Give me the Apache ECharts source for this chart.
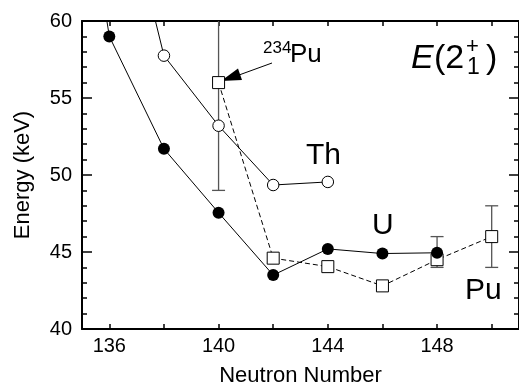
<!DOCTYPE html>
<html>
<head>
<meta charset="utf-8">
<script src="https://cdn.jsdelivr.net/npm/echarts@6/dist/echarts.min.js"></script>
<style>
	html, body { margin: 0; padding: 0; background: #fff; }
	#chart { width: 519px; height: 392px; }
</style>
</head>
<body>
<div id="chart"></div>
<script>
// U (filled circles)
const uN = [134, 136, 138, 140, 142, 144, 146, 148];
const uE = [81.7, 59.0, 51.7, 47.55, 43.5, 45.2, 44.9, 44.95];
// Th (open circles)
const thN = [136, 138, 140, 142, 144];
const thE = [72.2, 57.75, 53.2, 49.35, 49.55];
// Pu (open squares, dashed)
const puN = [140, 142, 144, 146, 148, 150];
const puE = [56.0, 44.6, 44.05, 42.8, 44.5, 46.0];
// error bars: [N, low, high]
const errN = [140, 148, 150];
const errLow = [49, 44, 44];
const errHigh = [63, 46, 48];
// ticks
const xTicks = [136, 138, 140, 142, 144, 146, 148, 150];
const xLabels = [136, 140, 144, 148];

const font = '"Liberation Sans", Arial, Helvetica, sans-serif';

function pairs(xs, ys) {
	return xs.map(function (x, i) { return [x, ys[i]]; });
}

let chart = echarts.init(document.getElementById('chart'));

let axisLine = { show: true, lineStyle: { color: '#000', width: 2 } };
let tickStyle = { color: '#000', width: 1.5 };

chart.setOption({
	animation: false,
	backgroundColor: '#fff',
	grid: { left: 82, right: -1, top: 21, bottom: 59 },
	xAxis: [{
		type: 'value', min: 135, max: 151, position: 'bottom',
		axisLine: axisLine,
		axisTick: { show: true, inside: true, length: 5, customValues: xTicks, lineStyle: tickStyle },
		axisLabel: { customValues: xLabels, fontSize: 20, color: '#000', fontFamily: font, margin: 7 },
		splitLine: { show: false },
		name: 'Neutron Number', nameLocation: 'middle', nameGap: 36,
		nameTextStyle: { fontSize: 22, color: '#000', fontFamily: font }
	}, {
		type: 'value', min: 135, max: 151, position: 'top',
		axisLine: axisLine,
		axisTick: { show: true, inside: true, length: 5, customValues: xTicks, lineStyle: tickStyle },
		axisLabel: { show: false },
		splitLine: { show: false }
	}],
	yAxis: [{
		type: 'value', min: 40, max: 60, interval: 5, position: 'left',
		axisLine: axisLine,
		axisTick: { show: true, inside: true, length: 10, lineStyle: tickStyle },
		minorTick: { show: true, splitNumber: 5, length: 5, lineStyle: tickStyle },
		axisLabel: { fontSize: 20, color: '#000', fontFamily: font, margin: 10 },
		splitLine: { show: false },
		name: 'Energy (keV)', nameLocation: 'middle', nameGap: 48,
		nameTextStyle: { fontSize: 22, color: '#000', fontFamily: font }
	}, {
		type: 'value', min: 40, max: 60, interval: 5, position: 'right',
		axisLine: axisLine,
		axisTick: { show: true, inside: true, length: 10, lineStyle: tickStyle },
		minorTick: { show: true, splitNumber: 5, length: 5, lineStyle: tickStyle },
		axisLabel: { show: false },
		splitLine: { show: false }
	}],
	series: [{
		type: 'custom',
		clip: true,
		z: 1,
		data: errN.map(function (n, i) { return [n, errLow[i], errHigh[i]]; }),
		encode: { x: 0, y: [1, 2] },
		renderItem: function (params, api) {
			let x = api.value(0);
			let lo = api.coord([x, api.value(1)]);
			let hi = api.coord([x, api.value(2)]);
			let w = 6.5;
			let style = { stroke: '#555', lineWidth: 1.3 };
			return {
				type: 'group',
				children: [
					{ type: 'line', shape: { x1: lo[0], y1: lo[1], x2: hi[0], y2: hi[1] }, style: style },
					{ type: 'line', shape: { x1: lo[0] - w, y1: lo[1], x2: lo[0] + w, y2: lo[1] }, style: style },
					{ type: 'line', shape: { x1: hi[0] - w, y1: hi[1], x2: hi[0] + w, y2: hi[1] }, style: style }
				]
			};
		}
	}, {
		name: 'Th', type: 'line', z: 2,
		data: pairs(thN, thE),
		symbol: 'circle', symbolSize: 11.5,
		itemStyle: { color: '#fff', borderColor: '#000', borderWidth: 1 },
		lineStyle: { color: '#000', width: 1 }
	}, {
		name: 'Pu', type: 'line', z: 3,
		data: pairs(puN, puE),
		symbol: 'rect', symbolSize: 12,
		itemStyle: { color: '#fff', borderColor: '#000', borderWidth: 1 },
		lineStyle: { color: '#000', width: 1, type: [5, 3] }
	}, {
		name: 'U', type: 'line', z: 4,
		data: pairs(uN, uE),
		symbol: 'circle', symbolSize: 12,
		itemStyle: { color: '#000' },
		lineStyle: { color: '#000', width: 1 }
	}],
	graphic: [
		{ type: 'text', left: 263, top: 40, style: { text: '234', fontSize: 17, fontFamily: font, fill: '#000' } },
		{ type: 'text', left: 290, top: 42, style: { text: 'Pu', fontSize: 26, fontFamily: font, fill: '#000' } },
		{ type: 'polyline', shape: { points: [[272, 63], [239, 75]] }, style: { stroke: '#000', lineWidth: 1 } },
		{ type: 'polygon', shape: { points: [[221, 81], [242, 80], [238, 68.6]] }, style: { fill: '#000' } },
		{ type: 'text', left: 306, top: 141, style: { text: 'Th', fontSize: 30, fontFamily: font, fill: '#000' } },
		{ type: 'text', left: 372, top: 211, style: { text: 'U', fontSize: 30, fontFamily: font, fill: '#000' } },
		{ type: 'text', left: 465, top: 276, style: { text: 'Pu', fontSize: 30, fontFamily: font, fill: '#000' } },
		{ type: 'text', left: 411, top: 42, style: { text: 'E', fontSize: 34, fontStyle: 'italic', fontFamily: font, fill: '#000' } },
		{ type: 'text', left: 434, top: 42, style: { text: '(2', fontSize: 34, fontFamily: font, fill: '#000' } },
		{ type: 'text', left: 466, top: 36, style: { text: '+', fontSize: 22, fontFamily: font, fill: '#000' } },
		{ type: 'text', left: 467, top: 56, style: { text: '1', fontSize: 23, fontFamily: font, fill: '#000' } },
		{ type: 'text', left: 486, top: 42, style: { text: ')', fontSize: 34, fontFamily: font, fill: '#000' } }
	]
});
</script>
</body>
</html>
